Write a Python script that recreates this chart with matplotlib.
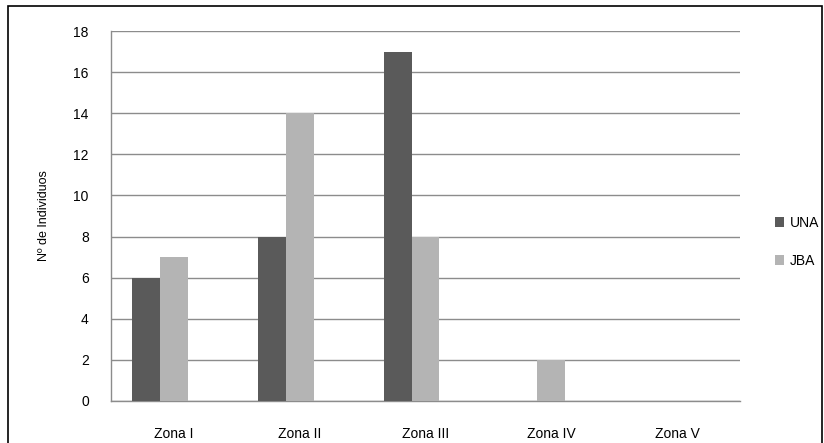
import numpy as np
import matplotlib
matplotlib.use("Agg")
import matplotlib.pyplot as plt
from matplotlib.patches import Rectangle

plt.rcParams['font.family'] = ['Liberation Sans', 'DejaVu Sans']

zonas = ['Zona I', 'Zona II', 'Zona III', 'Zona IV', 'Zona V']
una = [6, 8, 17, 0, 0]
jba = [7, 14, 8, 2, 0]
series = ['UNA', 'JBA']

fig = plt.figure(figsize=(8.24, 4.43), dpi=100)
W, H = 824, 443
ax = fig.add_axes([111 / W, 1 - 401 / H, (740 - 111) / W, (401 - 31) / H])

x = np.arange(len(zonas))
w = 28 / 126  # ancho de barra (hay un hueco para una 3a serie vacía)
ax.bar(x - w, una, width=w, color='#5a5a5a', label=series[0], zorder=3)
ax.bar(x, jba, width=w, color='#b4b4b4', label=series[1], zorder=3)

ax.set_xlim(-0.5, 4.5)
ax.set_ylim(0, 18)
ax.set_yticks(np.arange(0, 19, 2))
ax.set_xticks(x)
ax.set_xticklabels(zonas, fontsize=10)
ax.tick_params(axis='y', labelsize=10, length=0, pad=16)
ax.tick_params(axis='x', length=0, pad=19)
ax.yaxis.grid(True, color='#8c8c8c', linewidth=1)
ax.set_axisbelow(True)
for s in ['top', 'right']:
    ax.spines[s].set_visible(False)
for s in ['left', 'bottom']:
    ax.spines[s].set_color('#8c8c8c')
    ax.spines[s].set_linewidth(1)

ax.set_ylabel('Nº de Individuos', fontsize=9, labelpad=17)

leg = ax.legend(loc='center left', bbox_to_anchor=(1.035, 0.43), frameon=False,
                fontsize=10, handlelength=0.7, handleheight=0.7,
                handletextpad=0.4, labelspacing=1.75)

# borde exterior del gráfico
fig.patches.append(Rectangle((8 / W, -0.1), (822 - 8) / W, 1.1 - 6 / H,
                             transform=fig.transFigure, fill=False,
                             edgecolor='black', linewidth=1.2))

plt.savefig('out.png', dpi=100)
